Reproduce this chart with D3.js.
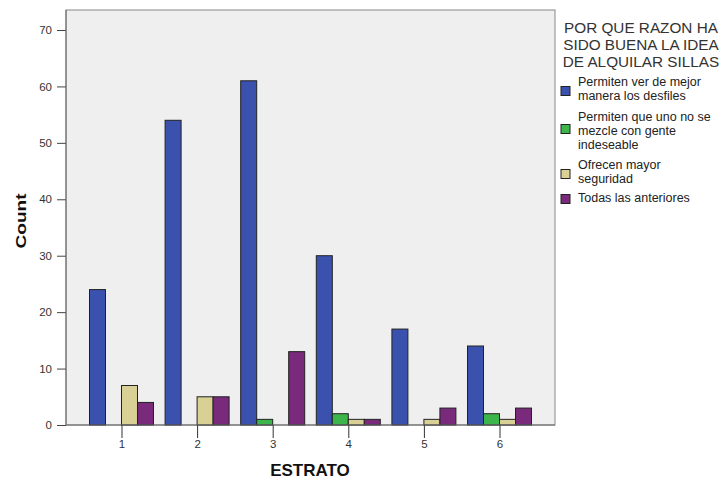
<!DOCTYPE html>
<html><head><meta charset="utf-8">
<script src="https://cdn.jsdelivr.net/npm/d3@7"></script>
<style>body{margin:0;background:#fff;} text{font-family:"Liberation Sans",Arial,sans-serif;}</style>
</head><body>
<svg id="c" width="724" height="480"></svg>
<script>
const categories = ["1","2","3","4","5","6"];
const seriesNames = ["Permiten ver de mejor manera los desfiles","Permiten que uno no se mezcle con gente indeseable","Ofrecen mayor seguridad","Todas las anteriores"];
const legendLines = [["Permiten ver de mejor","manera los desfiles"],["Permiten que uno no se","mezcle con gente","indeseable"],["Ofrecen mayor","seguridad"],["Todas las anteriores"]];
const mejorManera = [24,54,61,30,17,14];
const noMezcle = [0,0,1,2,0,2];
const seguridad = [7,5,0,1,1,1];
const todas = [4,5,13,1,3,3];
const yTicks = [0,10,20,30,40,50,60,70];
const colors = ["#3a52ae","#3cb54a","#d8d095","#7a2a7a"];
const series = [mejorManera,noMezcle,seguridad,todas];

const svg = d3.select("#c");
const L=66,R=555,T=10,B=425;
svg.append("rect").attr("x",L).attr("y",T).attr("width",R-L).attr("height",B-T).attr("fill","#efefef").attr("stroke","#888").attr("stroke-width",1);

const x = d3.scalePoint().domain(categories).range([L,R]).padding(0.734);
const y = d3.scaleLinear().domain([0,70]).range([B,30]);
const bw=16;

const yAxis = svg.append("g").attr("transform",`translate(${L},0)`).call(d3.axisLeft(y).tickValues(yTicks).tickSize(9).tickSizeOuter(0));
yAxis.select(".domain").remove();
yAxis.selectAll("line").attr("stroke","#444");
yAxis.selectAll("text").attr("fill","#333").style("font-size","11.5px").attr("x",-14);

const xAxis = svg.append("g").attr("transform",`translate(0,${B})`).call(d3.axisBottom(x).tickSize(13).tickSizeOuter(0));
xAxis.select(".domain").remove();
xAxis.selectAll("line").attr("stroke","#333");
xAxis.selectAll("text").attr("fill","#333").style("font-size","11.5px").attr("y",15);

series.forEach((vals,si)=>{
  svg.append("g").selectAll("rect").data(vals).join("rect")
    .attr("x",(d,i)=>x(categories[i])+(si-2)*bw)
    .attr("y",d=>y(d))
    .attr("width",bw)
    .attr("height",d=>B-y(d))
    .attr("fill",colors[si])
    .attr("stroke",d=>d>0?"#222":"none").attr("stroke-width",1);
});
svg.append("line").attr("x1",L).attr("x2",R).attr("y1",B).attr("y2",B).attr("stroke","#666");
svg.append("line").attr("x1",L).attr("x2",L).attr("y1",T).attr("y2",B).attr("stroke","#666");

svg.append("text").attr("transform","translate(26,221) rotate(-90)").attr("text-anchor","middle")
  .attr("textLength",55).attr("lengthAdjust","spacingAndGlyphs")
  .style("font-size","15px").style("font-weight","bold").attr("fill","#111").text("Count");
svg.append("text").attr("x",310).attr("y",476).attr("text-anchor","middle")
  .style("font-size","17px").style("font-weight","bold").attr("fill","#111").text("ESTRATO");

const title=["POR QUE RAZON HA","SIDO BUENA LA IDEA","DE ALQUILAR SILLAS"];
title.forEach((t,i)=>svg.append("text").attr("x",641).attr("y",33+i*17).attr("text-anchor","middle")
  .style("font-size","15.3px").attr("fill","#333").text(t));

const itemY=[82,117,165,198];
const swY=[91,129,174,199];
legendLines.forEach((lines,si)=>{
  svg.append("rect").attr("x",561).attr("y",swY[si]-4.5).attr("width",9).attr("height",9)
    .attr("fill",colors[si]).attr("stroke","#222");
  lines.forEach((ln,j)=>svg.append("text").attr("x",578).attr("y",itemY[si]+j*14+4)
    .style("font-size","12.5px").attr("fill","#222").text(ln));
});
</script>
</body></html>
